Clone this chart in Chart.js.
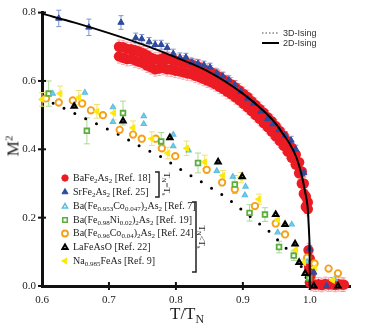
<!DOCTYPE html>
<html><head><meta charset="utf-8">
<script src="https://cdn.jsdelivr.net/npm/chart.js@4.4.1/dist/chart.umd.min.js"></script>
<style>
html,body{margin:0;padding:0;background:#fff;overflow:hidden}
#wrap{position:relative;width:372px;height:325px}
#c{position:absolute;left:0;top:0}
.s{position:absolute;font-family:"Liberation Serif","Times New Roman",serif;color:#222;white-space:nowrap;line-height:12px}
.s sub{font-size:70%;line-height:0;vertical-align:-0.3em}
.s sup{font-size:65%;line-height:0;vertical-align:0.55em}
.lg{font-size:10px}
.ss{position:absolute;font-family:"Liberation Sans",Arial,sans-serif;font-size:9px;color:#333;white-space:nowrap;line-height:10px}
</style></head><body>
<div id="wrap">
<canvas id="c" width="372" height="325"></canvas>
<div class="ss" style="left:283px;top:28px">3D-Ising</div>
<div class="ss" style="left:283px;top:38px">2D-Ising</div>
<div class="s lg" style="left:73px;top:172px">BaFe<sub>2</sub>As<sub>2</sub> [Ref. 18]</div>
<div class="s lg" style="left:73px;top:186px">SrFe<sub>2</sub>As<sub>2</sub> [Ref. 25]</div>
<div class="s lg" style="left:73px;top:200px">Ba(Fe<sub>0.953</sub>Co<sub>0.047</sub>)<sub>2</sub>As<sub>2</sub> [Ref. 7]</div>
<div class="s lg" style="left:73px;top:214px">Ba(Fe<sub>0.98</sub>Ni<sub>0.02</sub>)<sub>2</sub>As<sub>2</sub> [Ref. 19]</div>
<div class="s lg" style="left:73px;top:227px">Ba(Fe<sub>0.96</sub>Co<sub>0.04</sub>)<sub>2</sub>As<sub>2</sub> [Ref. 24]</div>
<div class="s lg" style="left:73px;top:241px">LaFeAsO [Ref. 22]</div>
<div class="s lg" style="left:73px;top:255px">Na<sub>0.985</sub>FeAs [Ref. 9]</div>
<div class="s" style="left:167px;top:184px;font-size:9px;transform:translate(-50%,-50%) rotate(90deg)">T<sub>N</sub>=T<sub>s</sub></div>
<div class="s" style="left:202px;top:237px;font-size:9px;transform:translate(-50%,-50%) rotate(90deg)">T<sub>N</sub>&lt;T<sub>s</sub></div>
<div class="s" style="left:13px;top:146px;font-size:17px;line-height:17px;transform:translate(-50%,-50%) rotate(-90deg)">M<sup>2</sup></div>
<div class="s" style="left:170px;top:305px;font-size:17px;line-height:17px">T/T<sub>N</sub></div>
</div>
<script>
// ---------- data ----------
const xTicks = [0.6, 0.7, 0.8, 0.9, 1.0];
const yTicks = [0.0, 0.2, 0.4, 0.6, 0.8];

const ising2T = [0.6,0.65,0.7,0.75,0.8,0.85,0.9,0.93,0.95,0.96,0.97,0.98,0.985,0.99,0.9925,0.995,0.997,0.998,0.999,0.9997,1.0];
const ising2M = [0.797,0.770,0.740,0.707,0.669,0.626,0.563,0.514,0.473,0.445,0.416,0.376,0.345,0.305,0.28,0.255,0.225,0.19,0.15,0.10,0.0];

const ising3T = [0.6,0.618,0.651,0.682,0.715,0.746,0.779,0.81,0.842,0.875,0.906,0.939,0.97,0.984,0.991,1.0];
const ising3M = [0.548,0.534,0.503,0.474,0.443,0.409,0.377,0.337,0.300,0.260,0.211,0.160,0.100,0.071,0.040,0.0];

const redT = [0.715,0.715,0.721,0.721,0.727,0.727,0.733,0.733,0.739,0.739,0.745,0.745,0.751,0.751,0.757,0.757,0.763,0.763,0.769,0.769,
0.775,0.775,0.781,0.781,0.787,0.787,0.793,0.793,0.799,0.799,0.805,0.805,0.811,0.811,0.817,0.817,0.823,0.823,0.829,0.829,
0.835,0.835,0.841,0.841,0.847,0.847,0.853,0.853,0.859,0.859,0.865,0.865,0.871,0.871,0.877,0.877,0.883,0.883,0.889,0.889,
0.895,0.895,0.901,0.901,0.907,0.907,0.913,0.913,0.919,0.919,0.925,0.925,0.931,0.931,0.937,0.937,0.943,0.943,0.949,0.949,
0.955,0.955,0.961,0.961,0.967,0.967,0.973,0.973,0.979,0.979,0.984,0.984,0.988,0.988,0.991,0.991,0.994,0.994,0.997,0.997,
0.998,1.000,0.999,1.001,1.000,
1.003,1.008,1.013,1.018,1.023,1.028,1.033,1.038,1.043,1.048,1.051];
const redM = [0.700,0.672,0.699,0.668,0.694,0.664,0.693,0.665,0.690,0.660,0.686,0.656,0.681,0.652,0.675,0.645,0.668,0.640,0.664,0.634,
0.663,0.636,0.667,0.638,0.664,0.634,0.662,0.633,0.659,0.630,0.657,0.628,0.654,0.625,0.651,0.622,0.649,0.620,0.644,0.615,
0.640,0.611,0.634,0.606,0.630,0.601,0.625,0.596,0.618,0.590,0.612,0.583,0.604,0.576,0.597,0.568,0.590,0.561,0.581,0.552,
0.572,0.543,0.562,0.533,0.553,0.523,0.541,0.512,0.530,0.500,0.518,0.489,0.507,0.477,0.494,0.465,0.482,0.452,0.468,0.438,
0.454,0.425,0.440,0.410,0.423,0.393,0.405,0.375,0.385,0.355,0.362,0.330,0.335,0.300,0.300,0.270,0.262,0.232,0.245,0.225,
0.105,0.080,0.055,0.030,0.010,
0.006,0.004,0.005,0.003,0.006,0.004,0.005,0.003,0.005,0.004,0.004];
const redErr = 0.02;

const srT = [0.625,0.670,0.718,0.740,0.749,0.760,0.769,0.778,0.787,0.796,0.806,0.815,0.824,0.833,0.842,0.851,0.861,0.870,0.879,0.888,0.897,0.907,0.916,0.927,0.937,0.945,0.954,0.963,0.972,0.979,0.991,1.000,1.006,1.025];
const srM = [0.783,0.757,0.771,0.726,0.723,0.714,0.706,0.706,0.697,0.680,0.669,0.669,0.654,0.651,0.646,0.640,0.623,0.614,0.603,0.589,0.569,0.549,0.534,0.511,0.489,0.474,0.457,0.440,0.426,0.400,0.331,0.109,0.040,0.000];
const srErr = [0.024,0.024,0.02,0.014,0.013,0.013,0.013,0.013,0.013,0.013,0.013,0.012,0.012,0.012,0.012,0.012,0.012,0.012,0.012,0.012,0.012,0.012,0.012,0.012,0.012,0.012,0.012,0.012,0.012,0.012,0.012,0.01,0.008,0.006];

const coAT = [0.616,0.664,0.706,0.706,0.752,0.752,0.796,0.796,0.819,0.861,0.885,0.904,0.903,0.952,0.973,0.996,1.037];
const coAM = [0.563,0.566,0.523,0.480,0.497,0.474,0.443,0.409,0.397,0.337,0.320,0.291,0.266,0.157,0.180,0.071,0.020];

const niT = [0.610,0.667,0.721,0.778,0.833,0.888,0.910,0.933,0.954,0.976,0.999];
const niM = [0.563,0.454,0.506,0.423,0.360,0.297,0.214,0.209,0.114,0.089,0.023];
const niErr = [0.037,0.038,0.035,0.026,0.029,0.026,0.024,0.02,0.017,0.014,0.011];

const co4T = [0.606,0.625,0.646,0.660,0.673,0.691,0.716,0.736,0.749,0.770,0.779,0.799,0.846,0.869,0.888,0.918,0.949,0.963,0.996,1.007,1.028,1.042];
const co4M = [0.549,0.537,0.543,0.534,0.514,0.500,0.457,0.443,0.431,0.431,0.403,0.380,0.340,0.303,0.283,0.234,0.183,0.151,0.083,0.066,0.051,0.037];

const laT = [0.648,0.721,0.791,0.863,0.899,0.949,0.963,0.978,0.984,0.993,1.006,1.042];
const laM = [0.526,0.483,0.434,0.363,0.320,0.209,0.180,0.123,0.069,0.037,0.000,0.000];

const naT = [0.600,0.627,0.655,0.682,0.707,0.736,0.764,0.788,0.816,0.843,0.870,0.897,0.924,0.952,0.979,0.991,1.007,1.034];
const naM = [0.546,0.563,0.551,0.511,0.506,0.463,0.431,0.389,0.403,0.363,0.323,0.317,0.254,0.194,0.106,0.069,0.054,0.017];
const naErr = [0.02,0.022,0.021,0.02,0.02,0.02,0.02,0.017,0.021,0.02,0.015,0.015,0.015,0.012,0.012,0.01,0.01,0.008];

// ---------- styles ----------
const RED = '#ec1c24', BLUE = '#2f4a9e', CYAN_F = '#7fcbe6', CYAN_S = '#5bbfe0',
      GREEN = '#5aae3c', ORANGE = '#f6a01a', YELLOW = '#fde80a';

const pts = (T, M) => T.map((t, i) => ({x: t, y: M[i]}));

const errPlugin = {
  id: 'errbars',
  beforeDatasetsDraw(chart) {
    const ctx = chart.ctx, xs = chart.scales.x, ys = chart.scales.y;
    chart.data.datasets.forEach(ds => {
      if (!ds.errs) return;
      ctx.save();
      ctx.strokeStyle = ds.errColor; ctx.lineWidth = ds.errWidth || 1;
      ds.data.forEach((p, j) => {
        const e = ds.errs[j]; if (!e) return;
        const x = xs.getPixelForValue(p.x);
        const y1 = ys.getPixelForValue(p.y - e), y2 = ys.getPixelForValue(p.y + e);
        const c = ds.cap || 0;
        ctx.beginPath();
        ctx.moveTo(x, y1); ctx.lineTo(x, y2);
        if (c) { ctx.moveTo(x - c, y1); ctx.lineTo(x + c, y1); ctx.moveTo(x - c, y2); ctx.lineTo(x + c, y2); }
        ctx.stroke();
      });
      ctx.restore();
    });
  }
};

const decoPlugin = {
  id: 'deco',
  afterDraw(chart) {
    const ctx = chart.ctx, xs = chart.scales.x, ys = chart.scales.y, a = chart.chartArea;
    ctx.save();
    ctx.strokeStyle = '#111'; ctx.lineWidth = 2;
    yTicks.forEach(v => { const y = ys.getPixelForValue(v); ctx.beginPath(); ctx.moveTo(a.left - 4, y); ctx.lineTo(a.left + 4, y); ctx.stroke(); });
    xTicks.forEach(v => { if (v === xTicks[0]) return; const x = xs.getPixelForValue(v); ctx.beginPath(); ctx.moveTo(x, a.bottom - 4); ctx.lineTo(x, a.bottom + 4); ctx.stroke(); });
    ctx.strokeStyle = '#888'; ctx.lineWidth = 1.5; ctx.setLineDash([1.5, 2]);
    ctx.beginPath(); ctx.moveTo(262, 33); ctx.lineTo(279, 33); ctx.stroke();
    ctx.setLineDash([]); ctx.strokeStyle = '#000'; ctx.lineWidth = 2;
    ctx.beginPath(); ctx.moveTo(262, 43); ctx.lineTo(279, 43); ctx.stroke();
    ctx.strokeStyle = '#222'; ctx.lineWidth = 1.5;
    ctx.beginPath(); ctx.moveTo(155, 172); ctx.lineTo(159, 172); ctx.lineTo(159, 197); ctx.lineTo(155, 197); ctx.stroke();
    ctx.beginPath(); ctx.moveTo(192, 202); ctx.lineTo(196, 202); ctx.lineTo(196, 272); ctx.lineTo(192, 272); ctx.stroke();
    const rows = [178, 192, 206.5, 220, 233.5, 247.5, 261];
    const sym = [
      {o:{pointStyle:'circle', radius:3.2, rotation:0, borderWidth:1}, f:RED, s:RED},
      {o:{pointStyle:'triangle', radius:3.5, rotation:0, borderWidth:1}, f:BLUE, s:BLUE},
      {o:{pointStyle:'triangle', radius:3.0, rotation:0, borderWidth:1.5}, f:'#fff', s:CYAN_S},
      {o:{pointStyle:'rect', radius:3.2, rotation:0, borderWidth:1.5}, f:'#fff', s:GREEN},
      {o:{pointStyle:'circle', radius:3, rotation:0, borderWidth:1.8}, f:'#fff', s:ORANGE},
      {o:{pointStyle:'triangle', radius:3.0, rotation:0, borderWidth:2}, f:'#fff', s:'#000'},
      {o:{pointStyle:'triangle', radius:3.4, rotation:-90, borderWidth:1}, f:YELLOW, s:YELLOW}
    ];
    sym.forEach((d, i) => { ctx.fillStyle = d.f; ctx.strokeStyle = d.s; ctx.lineWidth = d.o.borderWidth; Chart.helpers.drawPoint(ctx, d.o, 65, rows[i]); });
    ctx.restore();
  }
};

new Chart(document.getElementById('c'), {
  type: 'scatter',
  data: {
    datasets: [
      {label:'2D-Ising', data: pts(ising2T, ising2M), showLine:true, borderColor:'#000', borderWidth:2, pointRadius:0, cubicInterpolationMode:'monotone', fill:false, clip:false},
      {label:'SrFe2As2 [Ref. 25]', data: pts(srT, srM), errs: srErr, errColor:'#7f95cc', cap:2.5, pointStyle:'triangle', pointRadius:3.6, backgroundColor:BLUE, borderColor:BLUE, borderWidth:1, clip:false},
      {label:'LaFeAsO [Ref. 22]', data: pts(laT, laM), pointStyle:'triangle', pointRadius:2.9, backgroundColor:'#fff', borderColor:'#000', borderWidth:2.2, clip:false},
      {label:'Na0.985FeAs [Ref. 9]', data: pts(naT, naM), errs: naErr, errColor:'#efe27a', cap:3, pointStyle:'triangle', rotation:-90, pointRadius:3.6, backgroundColor:YELLOW, borderColor:YELLOW, borderWidth:1, clip:false},
      {label:'Ba(Fe0.953Co0.047)2As2 [Ref. 7]', data: pts(coAT, coAM), pointStyle:'triangle', pointRadius:3.0, backgroundColor:CYAN_F, borderColor:CYAN_S, borderWidth:1.2, clip:false},
      {label:'Ba(Fe0.98Ni0.02)2As2 [Ref. 19]', data: pts(niT, niM), errs: niErr, errColor:'#a9d993', cap:3, pointStyle:'rect', pointRadius:3.3, backgroundColor:'#fff', borderColor:GREEN, borderWidth:1.8, clip:false},
      {label:'Ba(Fe0.96Co0.04)2As2 [Ref. 24]', data: pts(co4T, co4M), pointStyle:'circle', pointRadius:3.2, backgroundColor:'#fff', borderColor:ORANGE, borderWidth:1.9, clip:false},
      {label:'3D-Ising', data: pts(ising3T, ising3M), showLine:true, borderColor:'#000', borderWidth:3, borderCapStyle:'round', borderDash:[0, 12], pointRadius:0, fill:false, clip:false},
      {label:'BaFe2As2 [Ref. 18]', data: pts(redT, redM), errs: redT.map(() => redErr), errColor:'rgba(240,110,120,0.55)', cap:2, pointStyle:'circle', pointRadius:5.2, backgroundColor:RED, borderColor:RED, borderWidth:0, clip:false}
    ]
  },
  options: {
    responsive:false, animation:false, devicePixelRatio:1,
    layout:{padding:{left:0, right:22, top:6, bottom:0}},
    plugins:{legend:{display:false}, tooltip:{enabled:false}},
    scales:{
      x:{type:'linear', min:0.6, max:1.06,
         afterBuildTicks: s => { s.ticks = xTicks.map(v => ({value:v})); },
         afterFit: s => { s.height = 39; },
         ticks:{callback: v => v.toFixed(1), font:{family:'Liberation Serif', size:11}, color:'#222', padding:8, maxRotation:0, autoSkip:false},
         grid:{display:false, drawTicks:false},
         border:{display:true, color:'#111', width:3}},
      y:{type:'linear', min:0, max:0.8,
         afterBuildTicks: s => { s.ticks = yTicks.map(v => ({value:v})); },
         afterFit: s => { s.width = 42; },
         ticks:{callback: v => v.toFixed(1), font:{family:'Liberation Serif', size:11}, color:'#222', padding:6, autoSkip:false},
         grid:{display:false, drawTicks:false},
         border:{display:true, color:'#111', width:3}}
    }
  },
  plugins:[errPlugin, decoPlugin]
});
</script>
</body></html>
